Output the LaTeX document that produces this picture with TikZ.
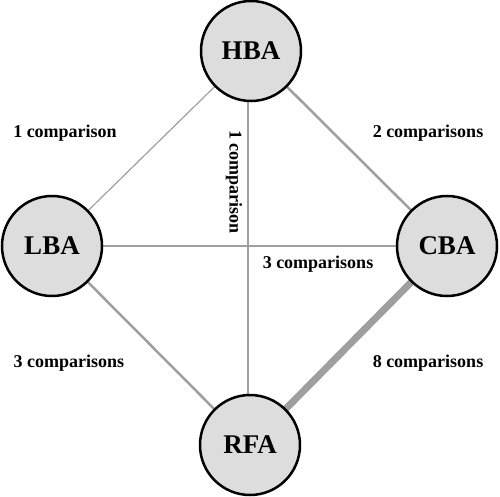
\documentclass[tikz,border=0pt]{standalone}
\usepackage{fontspec}
\setmainfont{Liberation Serif}
\begin{document}
\begin{tikzpicture}[x=1pt,y=-1pt,
  cnode/.style={circle,draw=black,line width=2.5pt,fill=gray!27,minimum size=100pt,inner sep=0pt,font=\fontsize{27}{30}\selectfont\bfseries},
  lbl/.style={font=\fontsize{18}{20}\selectfont\bfseries,inner sep=0pt},
  edge/.style={draw=gray!75}]
\useasboundingbox (0,0) rectangle (500,497);
\path (251,51) coordinate (HBA) (52,246) coordinate (LBA) (447,246) coordinate (CBA) (250,445) coordinate (RFA);
\draw[edge,line width=1.2pt] (HBA) -- (LBA);
\draw[edge,line width=2.5pt] (HBA) -- (CBA);
\draw[edge,line width=1.5pt] (HBA -| 248,0) -- (RFA -| 248,0);
\draw[edge,line width=2.5pt] (LBA) -- (CBA);
\draw[edge,line width=2.5pt] (LBA) -- (RFA);
\draw[edge,line width=7pt] (CBA) -- (RFA);
\node[cnode] (nHBA) at (HBA) {HBA};
\node[cnode] (nLBA) at (LBA) {LBA};
\node[cnode] (nCBA) at (CBA) {CBA};
\node[cnode] (nRFA) at (RFA) {RFA};
\node[lbl] (l1) at (65,133) {1 comparison};
\node[lbl] (l2) at (428,133) {2 comparisons};
\node[lbl] (l3) at (69,363) {3 comparisons};
\node[lbl] (l4) at (318,264) {3 comparisons};
\node[lbl] (l5) at (428,363) {8 comparisons};
\node[lbl,rotate=-90] (l6) at (234,182) {1 comparison};
\end{tikzpicture}
\end{document}
